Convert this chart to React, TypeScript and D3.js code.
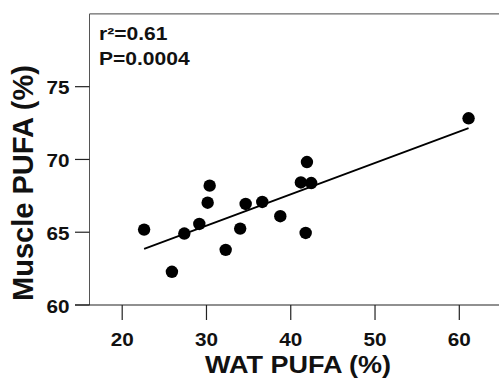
import React from "react";
import * as d3 from "d3";

const watPufa = [22.6, 25.9, 27.37, 29.15, 30.14, 30.38, 32.28, 34.0, 34.65, 36.62, 38.76, 41.2, 41.77, 41.92, 42.43, 61.1];
const musclePufa = [65.18, 62.28, 64.91, 65.57, 67.03, 68.2, 63.79, 65.25, 66.94, 67.08, 66.1, 68.42, 64.95, 69.82, 68.38, 72.83];
const xTicks = [20, 30, 40, 50, 60];
const yTicks = [60, 65, 70, 75];
const statLines = ["r\u00B2=0.61", "P=0.0004"];
const xTitle = "WAT PUFA (%)";
const yTitle = "Muscle PUFA (%)";

const W = 499;
const H = 379;
const FONT = "'Liberation Sans', Arial, Helvetica, sans-serif";
const SX = 1.15;

export default function App() {
  const x = d3.scaleLinear().domain([20, 60]).range([122.2, 459.3]);
  const y = d3.scaleLinear().domain([60, 80]).range([305, 13.9]);
  const left = 89.5;
  const top = y(80);
  const bottom = y(60);

  const mx = d3.mean(watPufa)!;
  const my = d3.mean(musclePufa)!;
  let sxy = 0, sxx = 0;
  watPufa.forEach((v, i) => {
    sxy += (v - mx) * (musclePufa[i] - my);
    sxx += (v - mx) * (v - mx);
  });
  const slope = sxy / sxx;
  const icpt = my - slope * mx;
  const [x0, x1] = d3.extent(watPufa) as [number, number];
  const line = d3.line<number>().x((v) => x(v)).y((v) => y(icpt + slope * v));

  return (
    <svg width={W} height={H} style={{ position: "absolute", left: 0, top: 0, display: "block", background: "#fff" }}>
      {/* frame */}
      <line x1={left} x2={W} y1={top} y2={top} stroke="#444" strokeWidth={1} />
      <line x1={left} x2={left} y1={top} y2={bottom} stroke="#555" strokeWidth={1} />
      <line x1={75} x2={W} y1={bottom} y2={bottom} stroke="#222" strokeWidth={1.2} />
      {/* y ticks */}
      {yTicks.map((t) => (
        <g key={"y" + t}>
          <line x1={75} x2={left} y1={y(t)} y2={y(t)} stroke="#222" strokeWidth={1.2} />
          <g transform={`translate(69.5,${y(t) + 7.5}) scale(${SX},1)`}>
            <text textAnchor="end" fontFamily={FONT} fontWeight="bold" fontSize={18} fill="#111">{t}</text>
          </g>
        </g>
      ))}
      {/* x ticks */}
      {xTicks.map((t) => (
        <g key={"x" + t}>
          <line x1={x(t)} x2={x(t)} y1={bottom} y2={bottom + 15} stroke="#222" strokeWidth={1.2} />
          <g transform={`translate(${x(t)},346) scale(${SX},1)`}>
            <text textAnchor="middle" fontFamily={FONT} fontWeight="bold" fontSize={18} fill="#111">{t}</text>
          </g>
        </g>
      ))}
      {/* regression line */}
      <path d={line([x0, x1]) || ""} fill="none" stroke="#000" strokeWidth={1.8} />
      {/* points */}
      {watPufa.map((v, i) => (
        <circle key={i} cx={x(v)} cy={y(musclePufa[i])} r={6.2} fill="#000" />
      ))}
      {/* stats */}
      {statLines.map((s, i) => (
        <g key={s} transform={`translate(99,${39.5 + i * 25}) scale(${SX},1)`}>
          <text fontFamily={FONT} fontWeight="bold" fontSize={18.3} fill="#111">{s}</text>
        </g>
      ))}
      {/* axis titles */}
      <g transform={`translate(298,373.3) scale(${SX},1)`}>
        <text textAnchor="middle" fontFamily={FONT} fontWeight="bold" fontSize={23.5} fill="#111">{xTitle}</text>
      </g>
      <g transform={`translate(32.5,183) rotate(-90)`}>
        <text textAnchor="middle" fontFamily={FONT} fontWeight="bold" fontSize={29} fill="#111">{yTitle}</text>
      </g>
    </svg>
  );
}
